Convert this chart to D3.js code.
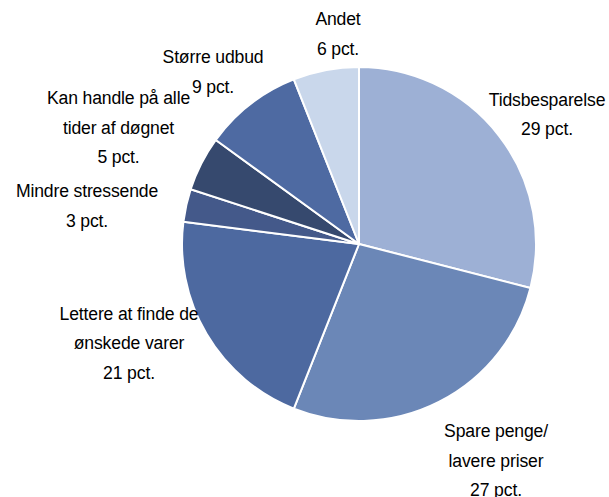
<!DOCTYPE html>
<html>
<head>
<meta charset="utf-8">
<script src="https://cdn.jsdelivr.net/npm/d3@7"></script>
<style>
  html, body { margin: 0; padding: 0; background: #fff; }
  svg { display: block; }
  text { font-family: "Liberation Sans", Arial, sans-serif; font-size: 17.6px; fill: #000; letter-spacing: -0.15px; }
</style>
</head>
<body>
<svg id="chart" width="609" height="497"></svg>
<script>
// Data
const categories = ["Tidsbesparelse", "Spare penge/lavere priser", "Lettere at finde de ønskede varer", "Mindre stressende", "Kan handle på alle tider af døgnet", "Større udbud", "Andet"];
const values = [29, 27, 21, 3, 5, 9, 6];
const labelLines = [
  ["Tidsbesparelse", "29 pct."],
  ["Spare penge/", "lavere priser", "27 pct."],
  ["Lettere at finde de", "ønskede varer", "21 pct."],
  ["Mindre stressende", "3 pct."],
  ["Kan handle på alle", "tider af døgnet", "5 pct."],
  ["Større udbud", "9 pct."],
  ["Andet", "6 pct."]
];

// Styles / layout
const colors = ["#9db0d5", "#6b87b7", "#4d69a0", "#44598a", "#36496e", "#4e6aa2", "#c9d7eb"];
const cx = 359, cy = 244, R = 177;
const lineH = 29.5;
// label anchor: [center x, first baseline]
const labelPos = [
  [547, 105.5],
  [496, 437],
  [129, 319.5],
  [87, 197],
  [118.5, 104],
  [213, 63],
  [338, 25]
];

const svg = d3.select("#chart");
const data = categories.map((c, i) => ({ cat: c, value: values[i], i }));

const pie = d3.pie().value(d => d.value).sort(null);
const arc = d3.arc().innerRadius(0).outerRadius(R);

const g = svg.append("g").attr("transform", `translate(${cx},${cy})`);
g.selectAll("path")
  .data(pie(data))
  .join("path")
  .attr("d", arc)
  .attr("fill", d => colors[d.data.i])
  .attr("stroke", "#fff")
  .attr("stroke-width", 2)
  .attr("stroke-linejoin", "round");

const labels = svg.append("g");
data.forEach((d, i) => {
  const t = labels.append("text")
    .attr("text-anchor", "middle")
    .attr("x", labelPos[i][0])
    .attr("y", labelPos[i][1]);
  labelLines[i].forEach((line, k) => {
    t.append("tspan")
      .attr("x", labelPos[i][0])
      .attr("y", labelPos[i][1] + k * lineH)
      .text(line);
  });
});
</script>
</body>
</html>
